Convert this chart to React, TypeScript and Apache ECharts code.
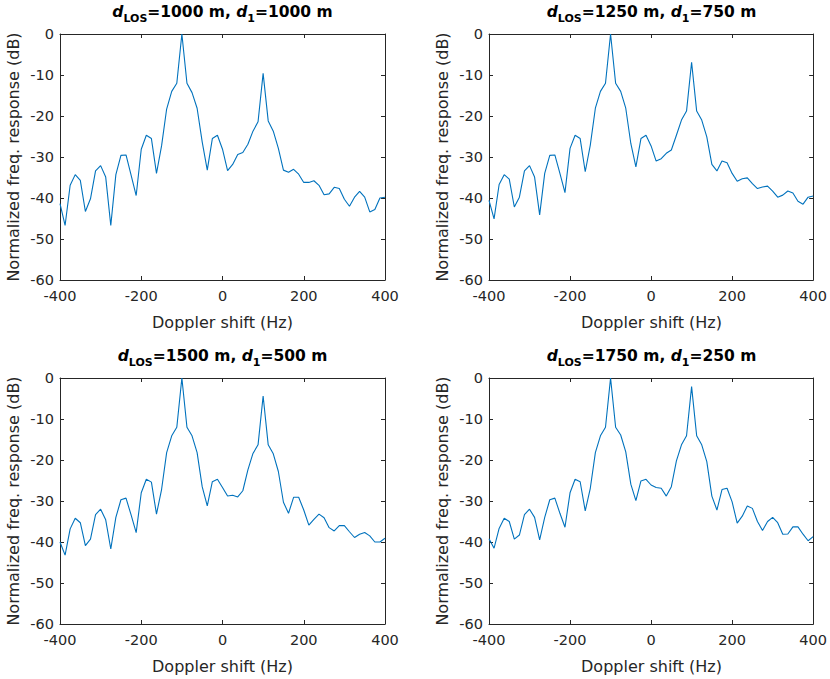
import React, { useEffect, useRef } from 'react';
import * as echarts from 'echarts';

const FONT = 'DejaVu Sans';

const dopplerHz = [
  -400, -387.5, -375, -362.5, -350, -337.5, -325, -312.5, -300, -287.5, -275, -262.5, -250,
  -237.5, -225, -212.5, -200, -187.5, -175, -162.5, -150, -137.5, -125, -112.5, -100, -87.5,
  -75, -62.5, -50, -37.5, -25, -12.5, 0, 12.5, 25, 37.5, 50, 62.5, 75, 87.5, 100, 112.5, 125,
  137.5, 150, 162.5, 175, 187.5, 200, 212.5, 225, 237.5, 250, 262.5, 275, 287.5, 300, 312.5,
  325, 337.5, 350, 362.5, 375, 387.5, 400,
];

const resp1000 = [
  -41.4, -46.7, -36.9, -34.3, -35.7, -43.3, -40.2, -33.4, -32.1, -34.9,
  -46.7, -34.3, -29.6, -29.5, -34.4, -39.4, -28.1, -24.7, -25.5, -34.0,
  -27.3, -18.3, -14.0, -12.0, 0, -12.0, -14.3, -18.1, -26.3, -33.2,
  -25.5, -24.7, -28.1, -33.3, -31.8, -29.4, -28.9, -26.9, -23.7, -21.4,
  -9.6, -21.2, -23.7, -27.9, -33.2, -33.7, -33.0, -34.2, -36.2, -36.2,
  -35.8, -36.9, -39.2, -39.0, -37.4, -37.7, -40.3, -42.0, -39.8, -38.4,
  -39.8, -43.4, -42.8, -40.0, -39.8,
];

const resp1250 = [
  -40.6, -45.1, -36.7, -34.3, -35.4, -42.2, -39.8, -33.4, -32.1, -34.9,
  -44.1, -34.0, -29.6, -29.5, -34.0, -38.7, -27.9, -24.7, -25.5, -33.6,
  -27.1, -18.1, -14.0, -12.0, 0, -12.0, -14.0, -18.1, -26.7, -32.4,
  -25.5, -24.7, -27.3, -31.0, -30.4, -29.1, -28.3, -24.7, -21.0, -18.8,
  -6.9, -18.8, -21.0, -25.1, -31.8, -33.4, -31.0, -31.4, -34.0, -35.9,
  -35.3, -35.1, -36.5, -37.7, -37.3, -37.1, -38.3, -39.8, -39.3, -38.3,
  -38.8, -40.8, -41.5, -39.8, -39.5,
];

const resp1500 = [
  -40.0, -43.2, -36.8, -34.2, -35.3, -40.9, -39.3, -33.3, -32.0, -34.6,
  -41.7, -34.0, -29.7, -29.3, -33.4, -37.7, -28.0, -24.7, -25.4, -33.2,
  -27.2, -18.2, -14.1, -12.0, 0, -12.0, -14.1, -18.2, -26.5, -31.2,
  -25.3, -24.7, -26.7, -28.8, -28.6, -29.0, -27.5, -22.4, -18.4, -16.3,
  -4.4, -16.3, -18.5, -22.8, -30.3, -33.0, -29.1, -29.1, -32.2, -35.9,
  -34.5, -33.2, -34.1, -36.5, -37.3, -36.0, -36.0, -37.5, -38.9, -38.1,
  -37.7, -38.5, -40.0, -40.0, -39.1,
];

const resp1750 = [
  -39.2, -41.5, -36.7, -34.2, -35.0, -39.3, -38.3, -33.3, -32.0, -34.0,
  -39.5, -34.0, -29.7, -29.3, -33.0, -36.4, -28.0, -24.7, -25.3, -32.4,
  -26.9, -18.2, -14.1, -12.0, 0, -12.0, -13.9, -18.0, -25.9, -29.9,
  -25.1, -24.7, -26.1, -26.7, -26.9, -28.8, -26.5, -20.2, -16.3, -14.1,
  -2.1, -14.1, -16.3, -20.4, -28.8, -32.2, -27.2, -26.9, -30.2, -35.4,
  -33.7, -31.2, -31.8, -35.0, -37.2, -35.0, -34.0, -35.3, -38.1, -38.05,
  -36.3, -36.3, -38.1, -39.7, -38.7,
];

const dLOS = [1000, 1250, 1500, 1750];
const d1 = [1000, 750, 500, 250];
const responses = [resp1000, resp1250, resp1500, resp1750];

const xLabel = 'Doppler shift (Hz)';
const yLabel = 'Normalized freq. response (dB)';

export default function App() {
  const ref = useRef<HTMLDivElement>(null);

  useEffect(() => {
    const chart = echarts.init(ref.current!, null, { renderer: 'svg' });
    const lefts = [60, 489, 60, 489];
    const tops = [34, 34, 378, 378];
    const W = 325;
    const H = 246;
    const axisColor = '#262626';

    const grid: any[] = [];
    const xAxis: any[] = [];
    const yAxis: any[] = [];
    const series: any[] = [];
    const graphic: any[] = [];

    responses.forEach((resp, i) => {
      grid.push({ left: lefts[i], top: tops[i], width: W, height: H, show: false });
      const axisLine = { show: true, onZero: false, lineStyle: { color: axisColor, width: 1 } };
      const axisTick = { show: true, inside: true, length: 4, lineStyle: { color: axisColor, width: 1 } };
      const label = { color: axisColor, fontFamily: FONT, fontSize: 14.5 };
      xAxis.push({
        gridIndex: i, type: 'value', min: -400, max: 400, interval: 200, position: 'bottom',
        axisLine, axisTick, splitLine: { show: false },
        axisLabel: { ...label, margin: 8 },
      });
      xAxis.push({
        gridIndex: i, type: 'value', min: -400, max: 400, interval: 200, position: 'top',
        axisLine, axisTick, splitLine: { show: false }, axisLabel: { show: false },
      });
      yAxis.push({
        gridIndex: i, type: 'value', min: -60, max: 0, interval: 10, position: 'left',
        axisLine, axisTick, splitLine: { show: false },
        axisLabel: { ...label, margin: 6 },
      });
      yAxis.push({
        gridIndex: i, type: 'value', min: -60, max: 0, interval: 10, position: 'right',
        axisLine, axisTick, splitLine: { show: false }, axisLabel: { show: false },
      });
      series.push({
        type: 'line',
        xAxisIndex: 2 * i,
        yAxisIndex: 2 * i,
        data: dopplerHz.map((f, k) => [f, resp[k]]),
        showSymbol: false,
        symbol: 'none',
        lineStyle: { color: '#0072BD', width: 1.1 },
        itemStyle: { color: '#0072BD' },
        emphasis: { disabled: true },
      });

      const cx = lefts[i] + W / 2;
      // title
      graphic.push({
        type: 'text',
        x: cx,
        y: tops[i] - 30,
        style: {
          text: `{i|d}{s|LOS}{n|=${dLOS[i]} m, }{i|d}{s|1}{n|=${d1[i]} m}`,
          align: 'center',
          verticalAlign: 'top',
          rich: {
            n: { fontFamily: FONT, fontSize: 15.5, fontWeight: 'bold', fill: '#000', lineHeight: 20, verticalAlign: 'top' },
            i: { fontFamily: FONT, fontSize: 15.5, fontWeight: 'bold', fontStyle: 'italic', fill: '#000', lineHeight: 20, verticalAlign: 'top' },
            s: { fontFamily: FONT, fontSize: 11, fontWeight: 'bold', fill: '#000', lineHeight: 10, verticalAlign: 'bottom' },
          },
        },
      });
      // x label
      graphic.push({
        type: 'text',
        x: cx,
        y: tops[i] + H + 42,
        style: {
          text: xLabel, fontFamily: FONT, fontSize: 16, fill: axisColor,
          align: 'center', verticalAlign: 'middle',
        },
      });
      // y label
      graphic.push({
        type: 'text',
        x: lefts[i] - 47,
        y: tops[i] + H / 2,
        rotation: Math.PI / 2,
        style: {
          text: yLabel, fontFamily: FONT, fontSize: 16, fill: axisColor,
          align: 'center', verticalAlign: 'middle',
        },
      });
    });

    chart.setOption({
      animation: false,
      backgroundColor: '#ffffff',
      grid,
      xAxis,
      yAxis,
      series,
      graphic,
    });
    return () => chart.dispose();
  }, []);

  return (
    <div
      ref={ref}
      style={{ position: 'absolute', left: 0, top: 0, width: 830, height: 679, background: '#fff' }}
    />
  );
}
